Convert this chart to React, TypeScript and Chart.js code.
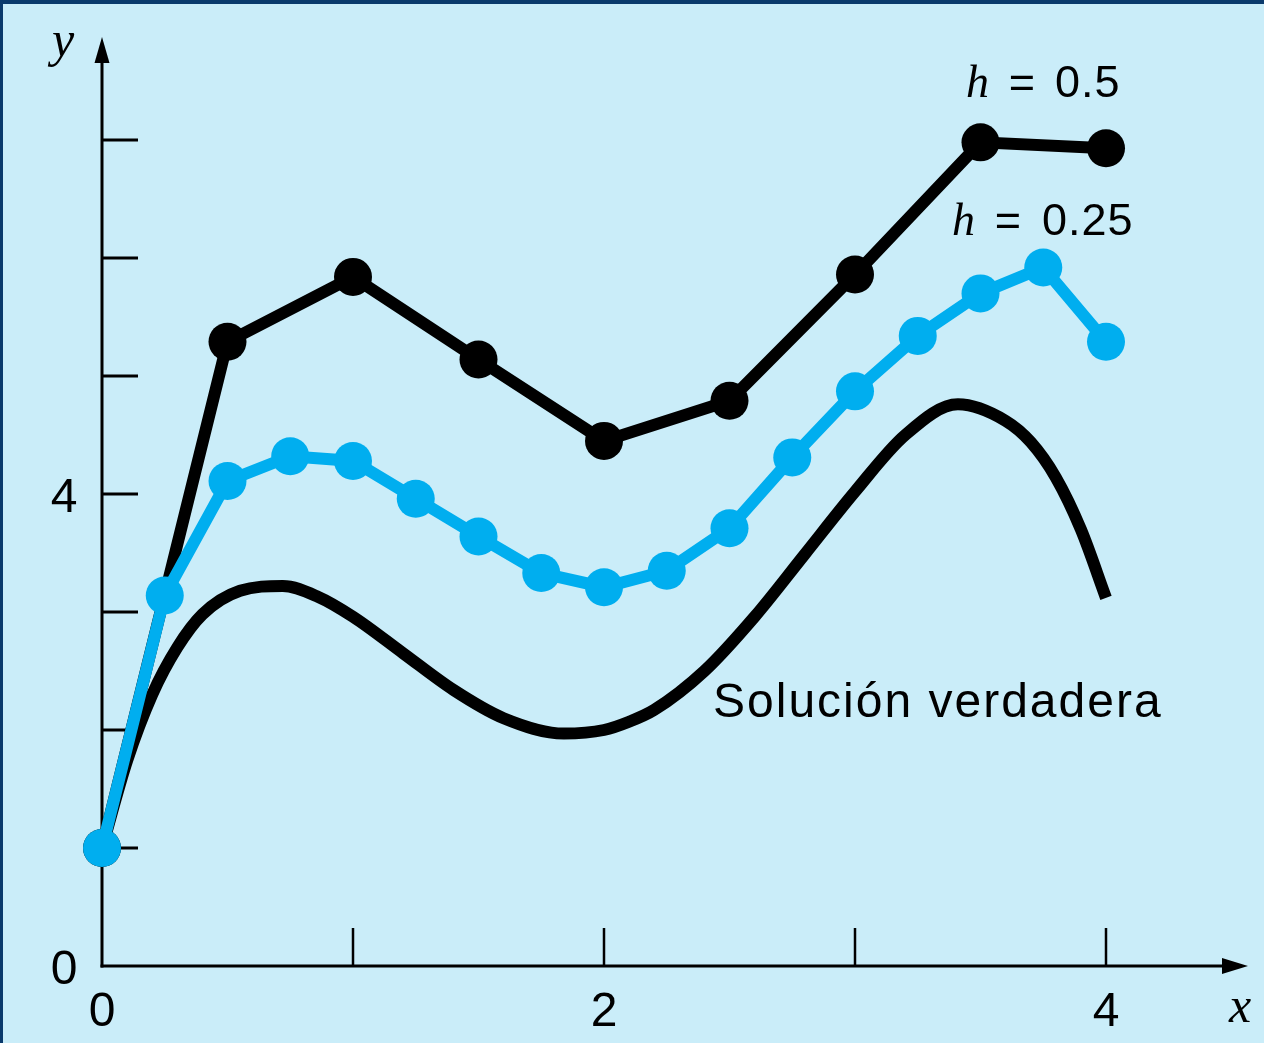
import React, { useEffect, useRef } from "react";
import { Chart, registerables } from "chart.js";

Chart.register(...registerables);

// True solution (incl. its turning points)
const xTrue = [0, 0.1, 0.2, 0.3, 0.4, 0.55, 0.72, 0.86, 1.0, 1.2, 1.4, 1.6, 1.84, 2.0, 2.1, 2.2, 2.4, 2.6, 2.8, 3.0, 3.2, 3.41, 3.6, 3.7, 3.8, 3.9, 4.0];
const yTrue = [1.0, 1.74, 2.3, 2.7, 2.98, 3.18, 3.22, 3.13, 2.96, 2.65, 2.34, 2.1, 1.97, 2.0, 2.07, 2.17, 2.5, 2.96, 3.49, 4.02, 4.5, 4.76, 4.62, 4.44, 4.14, 3.7, 3.12];

// Euler h = 0.5
const xH05 = [0, 0.5, 1, 1.5, 2, 2.5, 3, 3.5, 4];
const yH05 = [1.0, 5.29, 5.84, 5.14, 4.45, 4.79, 5.86, 6.98, 6.93];

// Euler h = 0.25
const xH025 = [0, 0.25, 0.5, 0.75, 1, 1.25, 1.5, 1.75, 2, 2.25, 2.5, 2.75, 3, 3.25, 3.5, 3.75, 4];
const yH025 = [1.0, 3.14, 4.11, 4.32, 4.28, 3.96, 3.64, 3.33, 3.21, 3.35, 3.71, 4.31, 4.87, 5.34, 5.7, 5.92, 5.29];

const yTicks = [1, 2, 3, 4, 5, 6, 7];
const xTicks = [1, 2, 3, 4];
const yTickLabels = [0, 4];
const xTickLabels = [0, 2, 4];

const BG = "#CAEDF9";
const NAVY = "#0A3A6C";
const BLUE = "#00AEEF";
const SANS = '"Liberation Sans", Arial, Helvetica, sans-serif';
const SERIF = '"Liberation Serif", "Times New Roman", serif';

const pts = (xs: number[], ys: number[]) => xs.map((x, i) => ({ x, y: ys[i] }));

const decor = {
  id: "decor",
  beforeDraw(chart: any) {
    const ctx = chart.ctx;
    ctx.save();
    ctx.fillStyle = BG;
    ctx.fillRect(0, 0, chart.width, chart.height);
    ctx.fillStyle = NAVY;
    ctx.fillRect(0, 0, chart.width, 4);
    ctx.fillRect(0, 0, 3, chart.height);
    ctx.restore();
  },
  beforeDatasetsDraw(chart: any) {
    const ctx = chart.ctx;
    const xs = chart.scales.x;
    const ys = chart.scales.y;
    const x0 = xs.getPixelForValue(0);
    const y0 = ys.getPixelForValue(0);
    ctx.save();
    ctx.strokeStyle = "#000";
    ctx.fillStyle = "#000";
    ctx.lineCap = "butt";
    // y axis
    ctx.lineWidth = 3;
    ctx.beginPath();
    ctx.moveTo(x0, y0 + 1.5);
    ctx.lineTo(x0, 62);
    ctx.stroke();
    ctx.beginPath();
    ctx.moveTo(x0, 37);
    ctx.lineTo(x0 - 7.5, 63);
    ctx.lineTo(x0 + 7.5, 63);
    ctx.closePath();
    ctx.fill();
    // x axis
    ctx.beginPath();
    ctx.moveTo(x0 - 1.5, y0);
    ctx.lineTo(1224, y0);
    ctx.stroke();
    ctx.beginPath();
    ctx.moveTo(1248, y0);
    ctx.lineTo(1222, y0 - 8);
    ctx.lineTo(1222, y0 + 8);
    ctx.closePath();
    ctx.fill();
    // y ticks
    ctx.lineWidth = 3;
    yTicks.forEach((v) => {
      const p = ys.getPixelForValue(v);
      ctx.beginPath();
      ctx.moveTo(x0, p);
      ctx.lineTo(x0 + 36, p);
      ctx.stroke();
    });
    // x ticks
    ctx.lineWidth = 2.5;
    xTicks.forEach((v) => {
      const p = xs.getPixelForValue(v);
      ctx.beginPath();
      ctx.moveTo(p, y0);
      ctx.lineTo(p, y0 - 38);
      ctx.stroke();
    });
    // tick labels
    ctx.font = `48px ${SANS}`;
    ctx.textAlign = "center";
    ctx.textBaseline = "alphabetic";
    yTickLabels.forEach((v) => {
      ctx.fillText(String(v), 64, ys.getPixelForValue(v) + 18);
    });
    xTickLabels.forEach((v) => {
      ctx.fillText(String(v), xs.getPixelForValue(v), y0 + 60);
    });
    // axis titles
    ctx.font = `italic 50px ${SERIF}`;
    ctx.fillText("y", 63, 56);
    ctx.fillText("x", 1240, 1022);
    // annotations
    ctx.textAlign = "left";
    ctx.font = `italic 46px ${SERIF}`;
    ctx.fillText("h", 966, 97);
    ctx.fillText("h", 952, 235);
    ctx.font = `45px ${SANS}`;
    ctx.textAlign = "center";
    ctx.fillText("=", 1022, 97);
    ctx.fillText("=", 1008, 235);
    ctx.textAlign = "left";
    (ctx as any).letterSpacing = "1px";
    ctx.fillText("0.5", 1055, 97);
    ctx.fillText("0.25", 1042, 235);
    ctx.font = `48px ${SANS}`;
    (ctx as any).letterSpacing = "2px";
    ctx.fillText("Solución verdadera", 713, 717);
    (ctx as any).letterSpacing = "0px";
    ctx.restore();
  },
};

export default function App() {
  const ref = useRef<HTMLCanvasElement | null>(null);
  useEffect(() => {
    document.body.style.margin = "0";
    const canvas = ref.current;
    if (!canvas) return;
    const chart = new Chart(canvas, {
      type: "line",
      data: {
        datasets: [
          {
            label: "h = 0.25",
            data: pts(xH025, yH025),
            borderColor: BLUE,
            backgroundColor: BLUE,
            borderWidth: 12,
            pointRadius: 19,
            pointBorderWidth: 0,
            pointBackgroundColor: BLUE,
            tension: 0,
            clip: false,
            order: 1,
          },
          {
            label: "h = 0.5",
            data: pts(xH05, yH05),
            borderColor: "#000",
            backgroundColor: "#000",
            borderWidth: 12,
            pointRadius: 19,
            pointBorderWidth: 0,
            pointBackgroundColor: "#000",
            tension: 0,
            clip: false,
            order: 2,
          },
          {
            label: "Solución verdadera",
            data: pts(xTrue, yTrue),
            borderColor: "#000",
            borderWidth: 12,
            pointRadius: 0,
            cubicInterpolationMode: "monotone",
            clip: false,
            order: 3,
          },
        ] as any,
      },
      options: {
        animation: false,
        responsive: false,
        devicePixelRatio: 1,
        layout: { padding: { left: 102, right: 158, top: 140, bottom: 77 } },
        scales: {
          x: { type: "linear", min: 0, max: 4, display: false },
          y: { type: "linear", min: 0, max: 7, display: false },
        },
        plugins: { legend: { display: false }, tooltip: { enabled: false } },
        events: [],
      } as any,
      plugins: [decor],
    });
    return () => chart.destroy();
  }, []);
  return (
    <div style={{ width: 1264, height: 1043 }}>
      <canvas ref={ref} width={1264} height={1043} style={{ display: "block" }} />
    </div>
  );
}
